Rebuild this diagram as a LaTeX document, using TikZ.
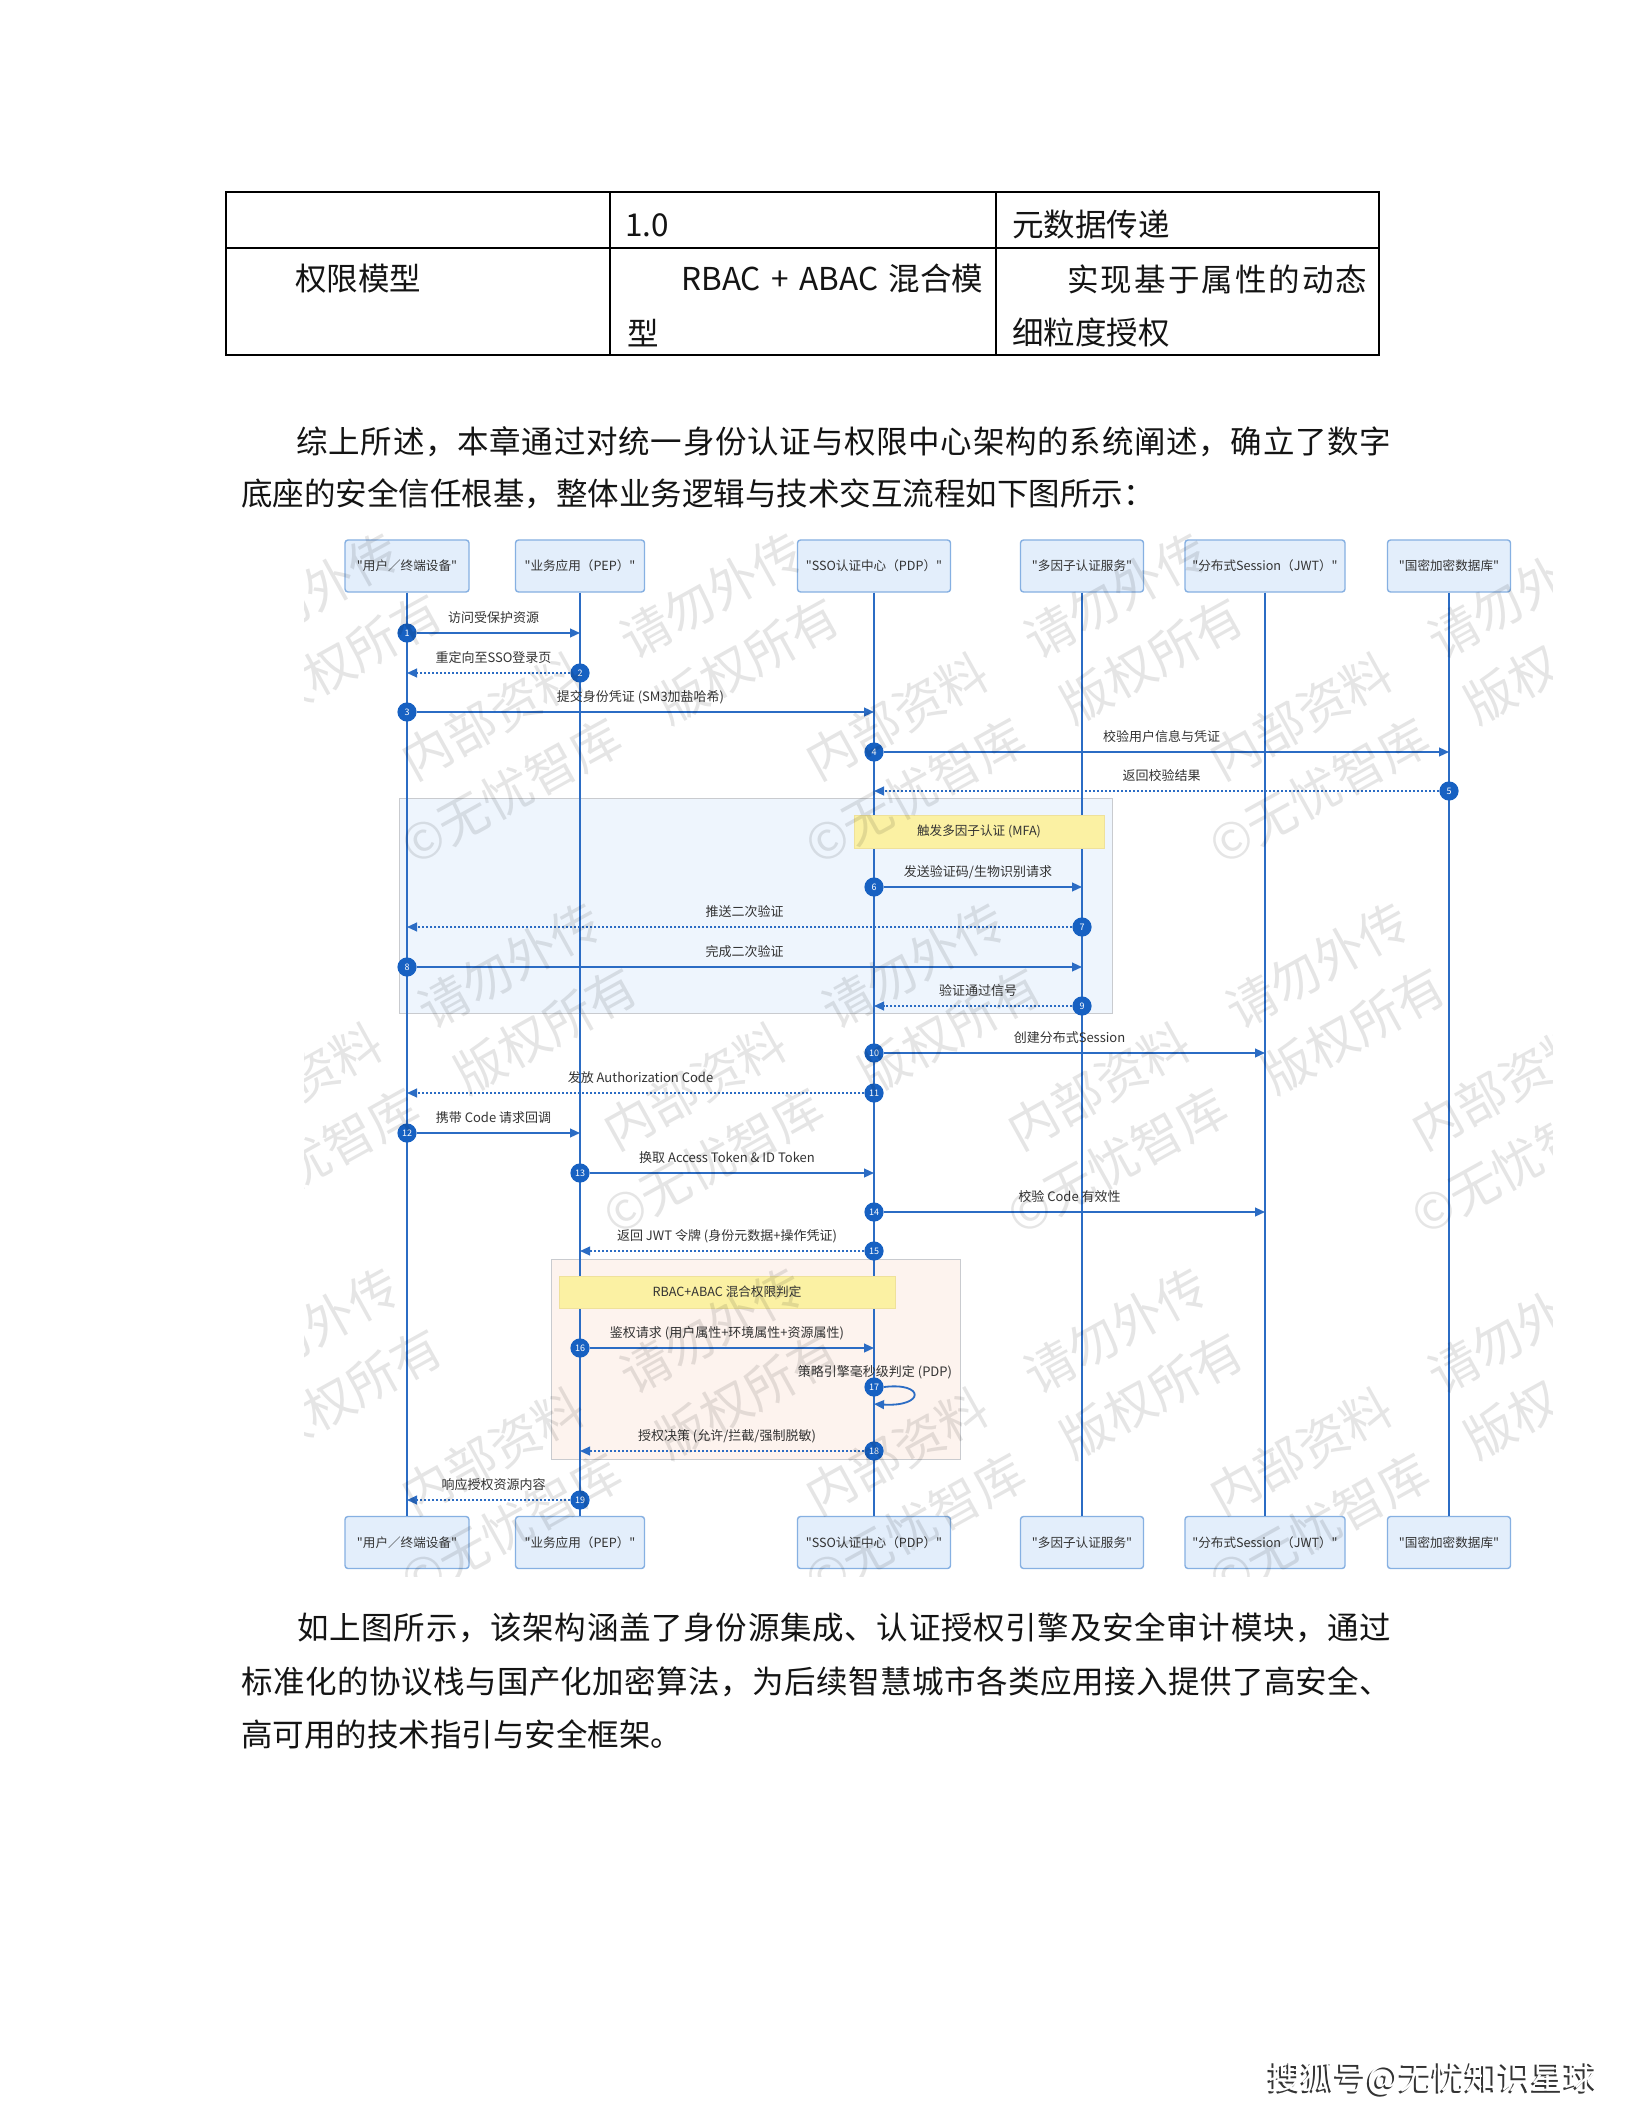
\documentclass[tikz,border=0pt]{standalone}
\usepackage{fontspec}
\usetikzlibrary{arrows.meta,calc}
\setmainfont{Liberation Serif}
\newfontfamily\cjk{Noto Sans CJK SC}
\newfontfamily\song{Noto Sans CJK SC}
\def\spreadend{}
\def\spreadloop#1{#1\spreadnext}
\def\spreadnext#1{\ifx\spreadend#1\else\hfill#1\expandafter\spreadnext\fi}
\newcommand\spreadbox[2]{\makebox[#1][s]{\spreadloop#2\spreadend}}
\newcommand\bodyfont{\song\fontsize{15.75pt}{18pt}\selectfont}
\definecolor{lineblue}{HTML}{2B6CC4}
\definecolor{numblue}{HTML}{1761C2}
\definecolor{boxfill}{HTML}{E3EEFB}
\definecolor{boxdraw}{HTML}{86B0E2}
\definecolor{grpblue}{HTML}{EEF5FD}
\definecolor{grppink}{HTML}{FDF3EE}
\definecolor{grpdraw}{HTML}{C9CBCF}
\definecolor{notefill}{HTML}{FBF1A3}
\definecolor{notedraw}{HTML}{EFE19A}
\definecolor{txt}{HTML}{333333}
\begin{document}
\begin{tikzpicture}[x=0.5pt,y=-0.5pt,
  part/.style={draw=boxdraw, fill=boxfill, line width=0.7pt, rounded corners=1.5pt, minimum height=26pt, inner sep=0pt, text=txt, font=\cjk\fontsize{6.3pt}{7pt}\selectfont},
  life/.style={draw=lineblue, line width=1pt},
  num/.style={circle, fill=numblue, text=white, minimum size=9.6pt, inner sep=0pt, font=\cjk\fontsize{4.5pt}{5pt}\selectfont},
  msg/.style={draw=lineblue, line width=0.9pt, -{Triangle[length=5pt,width=4.4pt]}},
  ret/.style={msg, line width=0.8pt, dash pattern=on 1pt off 1pt},
  lbl/.style={text=txt, inner sep=0pt, font=\cjk\fontsize{6.5pt}{7pt}\selectfont},
  note/.style={fill=notefill, draw=notedraw, line width=0.5pt, inner sep=0pt, text=txt, font=\cjk\fontsize{6.3pt}{7pt}\selectfont},
  grp/.style={draw=grpdraw, line width=0.5pt, inner sep=0pt},
  body/.style={inner sep=0pt, text=black!92, font=\bodyfont, anchor=west},
  wm/.style={text=black, opacity=0.1, rotate=29, inner sep=0pt, anchor=west, font=\cjk\fontsize{25pt}{26pt}\selectfont},
  tbl/.style={draw=black, line width=0.7pt}]
\useasboundingbox (0,0) rectangle (1632,2112);
\fill[white] (0,0) rectangle (1632,2112);

% ---------- table ----------
\draw[tbl] (226,192) rectangle (1379,355);
\draw[tbl] (226,248) -- (1379,248);
\draw[tbl] (610,192) -- (610,355);
\draw[tbl] (996,192) -- (996,355);
\node[body] (ta) at (625,225) {1.0};
\node[body] (tb) at (1012,225) {元数据传递};
\node[body] (tc) at (295,279) {权限模型};
\node[body] (td) at (681,279) {\makebox[151pt][s]{RBAC\hfill+\hfill ABAC\hfill 混合模}};
\node[body] (te) at (627,333) {型};
\node[body] (tf) at (1067,279) {\spreadbox{150pt}{实现基于属性的动态}};
\node[body] (tg) at (1012,333) {细粒度授权};

% ---------- paragraphs ----------
\node[body] (pa1) at (296,442) {\spreadbox{547.5pt}{综上所述，本章通过对统一身份认证与权限中心架构的系统阐述，确立了数字}};
\node[body] (pa2) at (241,494) {底座的安全信任根基，整体业务逻辑与技术交互流程如下图所示：};
\node[body] (pb1) at (297,1628) {\spreadbox{547pt}{如上图所示，该架构涵盖了身份源集成、认证授权引擎及安全审计模块，通过}};
\node[body] (pb2) at (241,1682) {\spreadbox{575pt}{标准化的协议栈与国产化加密算法，为后续智慧城市各类应用接入提供了高安全、}};
\node[body] (pb3) at (241,1734) {高可用的技术指引与安全框架。};

% ---------- groups ----------
\node[grp, fill=grpblue, minimum width=356.5pt, minimum height=107.5pt] (g1) at (755.5,905.5) {};
\node[grp, fill=grppink, minimum width=204.5pt, minimum height=100pt] (g2) at (755.5,1359) {};

% ---------- participants ----------
\node[part, minimum width=62pt] (p1t) at (407,566) {"用户／终端设备"};
\node[part, minimum width=64.5pt] (p2t) at (580,566) {"业务应用（PEP）"};
\node[part, minimum width=76.5pt] (p3t) at (874,566) {"SSO认证中心（PDP）"};
\node[part, minimum width=61.5pt] (p4t) at (1082,566) {"多因子认证服务"};
\node[part, minimum width=80pt] (p5t) at (1265,566) {"分布式Session（JWT）"};
\node[part, minimum width=61.5pt] (p6t) at (1449,566) {"国密加密数据库"};
\node[part, minimum width=62pt] (p1b) at (407,1542.5) {"用户／终端设备"};
\node[part, minimum width=64.5pt] (p2b) at (580,1542.5) {"业务应用（PEP）"};
\node[part, minimum width=76.5pt] (p3b) at (874,1542.5) {"SSO认证中心（PDP）"};
\node[part, minimum width=61.5pt] (p4b) at (1082,1542.5) {"多因子认证服务"};
\node[part, minimum width=80pt] (p5b) at (1265,1542.5) {"分布式Session（JWT）"};
\node[part, minimum width=61.5pt] (p6b) at (1449,1542.5) {"国密加密数据库"};
\foreach \i in {1,...,6} {\draw[life] (p\i t) -- (p\i b);}

% ---------- notes ----------
\node[note, minimum width=125pt, minimum height=16.5pt] (n1) at (979,831.5) {触发多因子认证 (MFA)};
\node[note, minimum width=168pt, minimum height=16pt] (n2) at (727,1292) {RBAC+ABAC 混合权限判定};

% ---------- messages ----------
\node[num] (c1) at (p1t |- 0,633) {1};
\coordinate (e1) at (p2t |- c1);
\draw[msg] (c1) -- (e1);
\node[lbl] (m1) at ($(c1)!0.5!(e1)+(0,-15)$) {访问受保护资源};

\node[num] (c2) at (p2t |- 0,673) {2};
\coordinate (e2) at (p1t |- c2);
\draw[ret] (c2) -- (e2);
\node[lbl] (m2) at ($(c2)!0.5!(e2)+(0,-15)$) {重定向至SSO登录页};

\node[num] (c3) at (p1t |- 0,712) {3};
\coordinate (e3) at (p3t |- c3);
\draw[msg] (c3) -- (e3);
\node[lbl] (m3) at ($(c3)!0.5!(e3)+(0,-15)$) {提交身份凭证 (SM3加盐哈希)};

\node[num] (c4) at (p3t |- 0,752) {4};
\coordinate (e4) at (p6t |- c4);
\draw[msg] (c4) -- (e4);
\node[lbl] (m4) at ($(c4)!0.5!(e4)+(0,-15)$) {校验用户信息与凭证};

\node[num] (c5) at (p6t |- 0,791) {5};
\coordinate (e5) at (p3t |- c5);
\draw[ret] (c5) -- (e5);
\node[lbl] (m5) at ($(c5)!0.5!(e5)+(0,-15)$) {返回校验结果};

\node[num] (c6) at (p3t |- 0,887) {6};
\coordinate (e6) at (p4t |- c6);
\draw[msg] (c6) -- (e6);
\node[lbl] (m6) at ($(c6)!0.5!(e6)+(0,-15)$) {发送验证码/生物识别请求};

\node[num] (c7) at (p4t |- 0,927) {7};
\coordinate (e7) at (p1t |- c7);
\draw[ret] (c7) -- (e7);
\node[lbl] (m7) at ($(c7)!0.5!(e7)+(0,-15)$) {推送二次验证};

\node[num] (c8) at (p1t |- 0,967) {8};
\coordinate (e8) at (p4t |- c8);
\draw[msg] (c8) -- (e8);
\node[lbl] (m8) at ($(c8)!0.5!(e8)+(0,-15)$) {完成二次验证};

\node[num] (c9) at (p4t |- 0,1006) {9};
\coordinate (e9) at (p3t |- c9);
\draw[ret] (c9) -- (e9);
\node[lbl] (m9) at ($(c9)!0.5!(e9)+(0,-15)$) {验证通过信号};

\node[num] (c10) at (p3t |- 0,1053) {10};
\coordinate (e10) at (p5t |- c10);
\draw[msg] (c10) -- (e10);
\node[lbl] (m10) at ($(c10)!0.5!(e10)+(0,-15)$) {创建分布式Session};

\node[num] (c11) at (p3t |- 0,1093) {11};
\coordinate (e11) at (p1t |- c11);
\draw[ret] (c11) -- (e11);
\node[lbl] (m11) at ($(c11)!0.5!(e11)+(0,-15)$) {发放 Authorization Code};

\node[num] (c12) at (p1t |- 0,1133) {12};
\coordinate (e12) at (p2t |- c12);
\draw[msg] (c12) -- (e12);
\node[lbl] (m12) at ($(c12)!0.5!(e12)+(0,-15)$) {携带 Code 请求回调};

\node[num] (c13) at (p2t |- 0,1173) {13};
\coordinate (e13) at (p3t |- c13);
\draw[msg] (c13) -- (e13);
\node[lbl] (m13) at ($(c13)!0.5!(e13)+(0,-15)$) {换取 Access Token \& ID Token};

\node[num] (c14) at (p3t |- 0,1212) {14};
\coordinate (e14) at (p5t |- c14);
\draw[msg] (c14) -- (e14);
\node[lbl] (m14) at ($(c14)!0.5!(e14)+(0,-15)$) {校验 Code 有效性};

\node[num] (c15) at (p3t |- 0,1251) {15};
\coordinate (e15) at (p2t |- c15);
\draw[ret] (c15) -- (e15);
\node[lbl] (m15) at ($(c15)!0.5!(e15)+(0,-15)$) {返回 JWT 令牌 (身份元数据+操作凭证)};

\node[num] (c16) at (p2t |- 0,1348) {16};
\coordinate (e16) at (p3t |- c16);
\draw[msg] (c16) -- (e16);
\node[lbl] (m16) at ($(c16)!0.5!(e16)+(0,-15)$) {鉴权请求 (用户属性+环境属性+资源属性)};

\node[num] (c17) at (p3t |- 0,1387) {17};
\coordinate (e17) at (p3t |- 0,1404);
\draw[msg] (c17.east) .. controls (925,1382) and (925,1407) .. (e17);
\node[lbl] (m17) at (875,1372) {策略引擎毫秒级判定 (PDP)};

\node[num] (c18) at (p3t |- 0,1451) {18};
\coordinate (e18) at (p2t |- c18);
\draw[ret] (c18) -- (e18);
\node[lbl] (m18) at ($(c18)!0.5!(e18)+(0,-15)$) {授权决策 (允许/拦截/强制脱敏)};

\node[num] (c19) at (p2t |- 0,1500) {19};
\coordinate (e19) at (p1t |- c19);
\draw[ret] (c19) -- (e19);
\node[lbl] (m19) at ($(c19)!0.5!(e19)+(0,-15)$) {响应授权资源内容};

% ---------- watermark ----------
\begin{scope}
\clip (304,532) rectangle (1552,1576);
\foreach \x/\y [count=\i] in {405/765, 809/765, 203/1135, 607/1135, 1011/1135, 405/1500, 809/1500} {
  \node[wm] (wa\i) at (\x,\y) {内部资料　请勿外传};
  \node[wm] (wb\i) at (\x,\y+85) {©无忧智库　版权所有};
}
\node[wm] (wc1) at (263,620) {勿外传};
\node[wm] (wc2) at (263,705) {版权所有};
\node[wm] (wc3) at (263,1355) {勿外传};
\node[wm] (wc4) at (263,1440) {版权所有};
\node[wm] (wd1) at (1213,765) {内部资料　请勿外};
\node[wm] (wd2) at (1213,850) {©无忧智库　版权};
\node[wm] (wd3) at (1415,1135) {内部资料};
\node[wm] (wd4) at (1415,1220) {©无忧智};
\node[wm] (wd5) at (1213,1500) {内部资料　请勿外};
\node[wm] (wd6) at (1213,1585) {©无忧智库　版权};
\end{scope}

% ---------- corner mark ----------
\node[inner sep=0pt, text=black!80, font=\cjk\fontsize{16.5pt}{18pt}\selectfont] (sh) at (1431,2080) {搜狐号@无忧知识星球};
\node[inner sep=0pt, text=white, font=\cjk\fontsize{16.5pt}{18pt}\selectfont] (sw) at (1433,2078) {搜狐号@无忧知识星球};
\end{tikzpicture}
\end{document}
